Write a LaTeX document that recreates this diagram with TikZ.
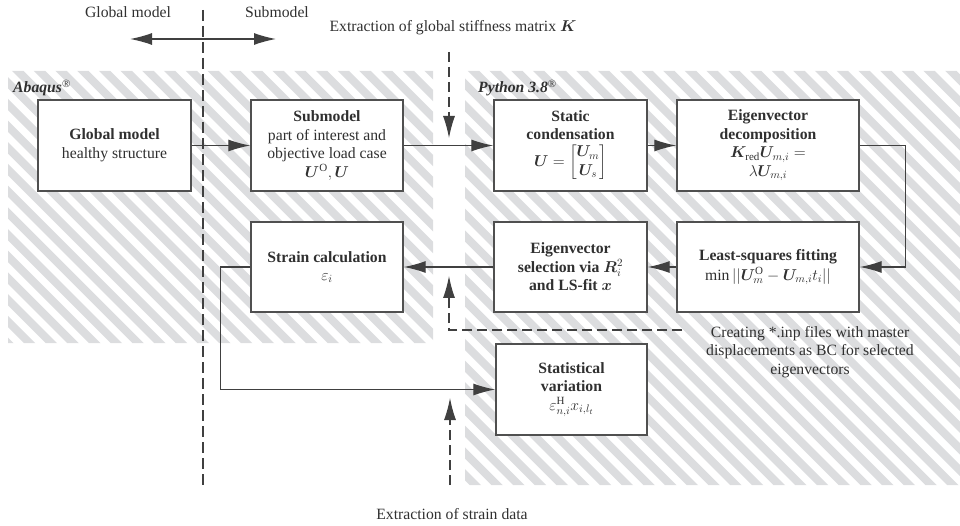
\RequirePackage{fix-cm}
\documentclass[tikz,border=0pt]{standalone}
\usepackage{amsmath}
\usepackage{bm}
\usepackage{fontspec}
\setmainfont{Liberation Serif}
\usetikzlibrary{arrows.meta}
\definecolor{stripecol}{HTML}{DCDDDF}
\definecolor{ink}{HTML}{303030}
\definecolor{boxline}{HTML}{505050}
\definecolor{connline}{HTML}{404040}
\tikzset{
  txt/.style={font=\fontsize{15.7}{18.5}\selectfont, text=ink, inner sep=0pt},
  procbox/.style={draw=boxline, line width=1.4pt, fill=white, align=center,
    font=\fontsize{15.7}{18.5}\selectfont, text=ink, inner sep=2pt},
  conn/.style={draw=connline, line width=1.3pt, -{Latex[length=22pt,width=12pt]}},
  dblconn/.style={draw=connline, line width=1.3pt, {Latex[length=22pt,width=12pt]}-{Latex[length=22pt,width=12pt]}},
  dasharrow/.style={draw=connline, line width=1.1pt, dash pattern=on 10pt off 5pt, -{Latex[length=22pt,width=12pt]}},
  divider/.style={draw=connline, line width=1.1pt, dash pattern=on 11pt off 5pt},
  stripeline/.style={draw=stripecol, line width=8pt},
}
\begin{document}
\begin{tikzpicture}[x=1pt,y=-1pt]
\useasboundingbox (0,0) rectangle (960,526);
% striped regions
\begin{scope}
  \clip (8,71) rectangle (433,343) (465,71) rectangle (960,485);
  \foreach \k in {-25,...,46} \draw[stripeline] (12+\k*21.7,0) -- ++(600,600);
\end{scope}
% region labels
\node[txt, anchor=base west] (abq) at (13,93) {\textbf{\textit{Abaqus}}\textsuperscript{\textregistered}};
\node[txt, anchor=base west] (py) at (478,93) {\textbf{\textit{Python 3.8}}\textsuperscript{\textregistered}};
% top labels
\node[txt, anchor=base] (lglob) at (128,18) {Global model};
\node[txt, anchor=base] (lsub) at (277,18) {Submodel};
\node[txt, anchor=base] (lK) at (453,32) {Extraction of global stiffness matrix $\bm{K}$};
\node[txt, anchor=base] (lstrain) at (452,519) {Extraction of strain data};
\node[txt, align=center] (lcreate) at (810,352) {Creating *.inp files with master\\displacements as BC for selected\\eigenvectors};
% boxes
\node[procbox, minimum width=153pt, minimum height=91pt] (global) at (114.5,145.5)
  {\textbf{Global model}\\healthy structure};
\node[procbox, minimum width=152pt, minimum height=91pt] (sub) at (327,145.5)
  {\textbf{Submodel}\\part of interest and\\objective load case\\$\bm{U}^{\mathrm{O}},\bm{U}$};
\node[procbox, minimum width=153pt, minimum height=91pt] (static) at (570.5,145.5)
  {\textbf{Static}\\\textbf{condensation}\\[3pt]$\bm{U}=\begin{bmatrix}\bm{U}_m\\ \bm{U}_s\end{bmatrix}$};
\node[procbox, minimum width=182pt, minimum height=91pt] (decomp) at (768,145.5)
  {\textbf{Eigenvector}\\\textbf{decomposition}\\$\bm{K}_{\mathrm{red}}\bm{U}_{m,i}=$\\$\lambda\bm{U}_{m,i}$};
\node[procbox, minimum width=182pt, minimum height=90pt] (lsq) at (768,267)
  {\textbf{Least-squares fitting}\\[1pt]$\min||\bm{U}^{\mathrm{O}}_m-\bm{U}_{m,i}t_i||$};
\node[procbox, minimum width=153pt, minimum height=90pt] (select) at (570.5,267)
  {\textbf{Eigenvector}\\\textbf{selection via $\bm{R}_i^2$}\\\textbf{and LS-fit $\bm{x}$}};
\node[procbox, minimum width=152pt, minimum height=90pt] (strain) at (327,267)
  {\textbf{Strain calculation}\\$\varepsilon_i$};
\node[procbox, minimum width=151pt, minimum height=91pt] (stat) at (571.5,389.5)
  {\textbf{Statistical}\\\textbf{variation}\\$\varepsilon^{\mathrm{H}}_{n,i}x_{i,l_t}$};
% solid connectors
\draw[conn] (global) -- (sub);
\draw[conn] (sub) -- (static);
\draw[conn] (static) -- (decomp);
\draw[conn] (decomp.east) -- ++(46,0) |- (lsq.east);
\draw[conn] (lsq) -- (select);
\draw[conn] (select) -- (strain);
\draw[conn] (strain.west) -- ++(-30,0) |- (stat.west);
% divider and model arrow
\coordinate (divtop) at (203,10);
\coordinate (divbot) at (203,485);
\draw[divider] (divtop) -- (divbot);
\coordinate (gl) at (130,39);
\coordinate (sm) at (276,39);
\draw[dblconn] (gl) -- (sm);
% dashed arrows
\coordinate (kstart) at (449,52);
\coordinate (ktip) at (449,138);
\draw[dasharrow] (kstart) -- (ktip);
\coordinate (crstart) at (682,330);
\coordinate (crtip) at (449,276);
\draw[dasharrow] (crstart) -| (crtip);
\coordinate (sdstart) at (450,485);
\coordinate (sdtip) at (450,398);
\draw[dasharrow] (sdstart) -- (sdtip);
\end{tikzpicture}
\end{document}
